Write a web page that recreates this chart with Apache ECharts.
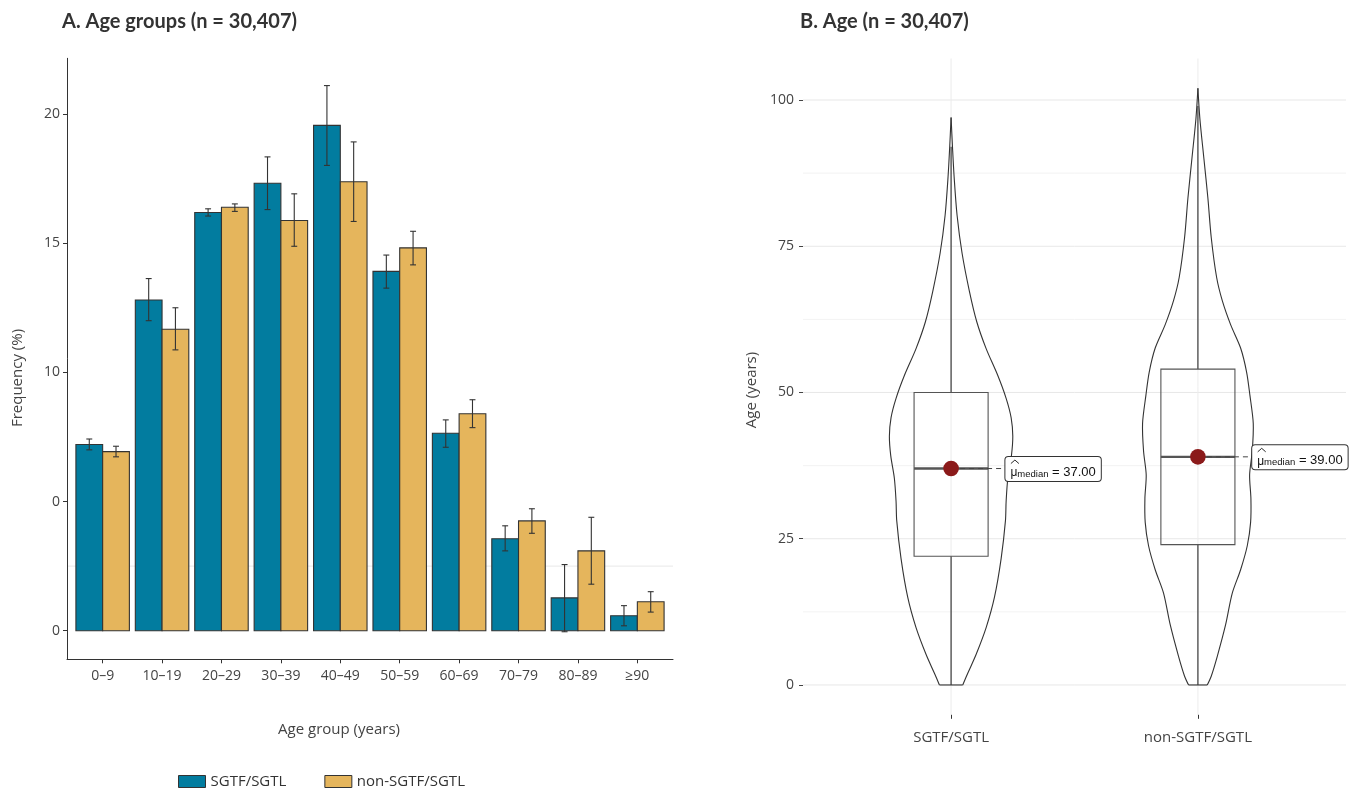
<!DOCTYPE html>
<html><head><meta charset="utf-8">
<script src="https://cdn.jsdelivr.net/npm/echarts@6/dist/echarts.min.js"></script>
<style>html,body{margin:0;padding:0;background:#fff}#c{width:1355px;height:789px}</style>
</head><body><div id="c"></div>
<script>
// ---------- Panel A data ----------
const ageGroups = ['0–9','10–19','20–29','30–39','40–49','50–59','60–69','70–79','80–89','≥90'];
const sgtfFreq  = [7.21,12.80,16.19,17.32,19.56,13.91,7.64,3.56,1.27,0.58];
const sgtfLow   = [7.00,12.00,16.05,16.30,18.01,13.26,7.10,3.09,-0.04,0.19];
const sgtfHigh  = [7.42,13.63,16.33,18.34,21.10,14.54,8.16,4.06,2.56,0.97];
const nonFreq   = [6.93,11.67,16.39,15.88,17.38,14.82,8.40,4.25,3.09,1.12];
const nonLow    = [6.73,10.87,16.23,14.88,15.84,14.16,7.86,3.77,1.80,0.72];
const nonHigh   = [7.14,12.50,16.52,16.91,18.92,15.46,8.94,4.72,4.39,1.51];
const freqTicks = [0,5,10,15,20];
const freqTickLabels = ['0','0','10','15','20'];
const freqRefLines = [2.5];

// ---------- Panel B data ----------
const groupNames = ['SGTF/SGTL','non-SGTF/SGTL'];
const sgtfAges = [0,2,5.2,9.8,15,21.6,28.1,31.4,35.3,39.2,42.5,45.7,49,52.9,57.5,62.1,67.3,73.8,80.3,86.9,92.1,97];
const sgtfDensity = [0.189,0.270,0.405,0.568,0.703,0.811,0.881,0.892,0.919,0.978,1.0,0.973,0.892,0.757,0.568,0.416,0.297,0.178,0.097,0.049,0.022,0];
const nonAges = [0,1.5,4.9,10.3,15.7,19.7,23.8,27.8,31.9,35.9,40,44.7,49.5,53.5,57.6,61.6,65.7,69.7,76.5,83.2,90,96.8,102];
const nonDensity = [0.151,0.216,0.314,0.449,0.557,0.692,0.8,0.854,0.859,0.838,0.881,0.897,0.843,0.789,0.692,0.530,0.395,0.303,0.216,0.162,0.097,0.032,0];
const boxMin    = [0, 0];
const boxQ1     = [22, 24];
const boxMedian = [37, 39];
const boxQ3     = [50, 54];
const boxMax    = [92, 99];
const ageTicks = [0,25,50,75,100];
const ageMinorLines = [12.5,37.5,62.5,87.5];
const groupPositions = [1, 2];

// ---------- styling constants ----------
const C_SGTF = '#027c9f', C_NON = '#e5b55c', C_EDGE = '#333333';
const TXT = '#444444';
const FONT = '"Open Sans", "Noto Sans", sans-serif';
const barW = 0.45, capW = 0.1;
const violinScale = 0.25, boxHalf = 0.15, labelOffset = 0.22;

const violinAges = [sgtfAges, nonAges];
const violinDens = [sgtfDensity, nonDensity];

function barRenderer(side){
  return function(params, api){
    const i = api.value(0), v = api.value(1);
    const x0 = side < 0 ? i - barW : i, x1 = side < 0 ? i : i + barW;
    const p0 = api.coord([x0, 0]), p1 = api.coord([x1, v]);
    return {type:'rect', shape:{x:p0[0], y:Math.min(p0[1],p1[1]), width:p1[0]-p0[0], height:Math.abs(p0[1]-p1[1])},
      style:{fill: api.visual('color'), stroke: C_EDGE, lineWidth: 1.1}};
  };
}
function errRenderer(side){
  return function(params, api){
    const x = api.value(0) + side * barW/2, lo = api.value(1), hi = api.value(2);
    const a = api.coord([x, lo]), b = api.coord([x, hi]);
    const hw = api.size([capW, 0])[0] / 2;
    const st = {stroke:'#333', lineWidth:1.1};
    return {type:'group', children:[
      {type:'line', shape:{x1:a[0], y1:a[1], x2:b[0], y2:b[1]}, style:st},
      {type:'line', shape:{x1:a[0]-hw, y1:a[1], x2:a[0]+hw, y2:a[1]}, style:st},
      {type:'line', shape:{x1:b[0]-hw, y1:b[1], x2:b[0]+hw, y2:b[1]}, style:st}
    ]};
  };
}
function hLineRenderer(x0, x1, color){
  return function(params, api){
    const v = api.value(0);
    const a = api.coord([x0, v]), b = api.coord([x1, v]);
    return {type:'line', shape:{x1:a[0], y1:a[1], x2:b[0], y2:b[1]}, style:{stroke:color, lineWidth:1}};
  };
}
function vLineRenderer(y0, y1, color){
  return function(params, api){
    const v = api.value(0);
    const a = api.coord([v, y0]), b = api.coord([v, y1]);
    return {type:'line', shape:{x1:a[0], y1:a[1], x2:b[0], y2:b[1]}, style:{stroke:color, lineWidth:1}};
  };
}
function violinRenderer(params, api){
  const g = api.value(0);
  const ages = violinAges[params.dataIndex], dens = violinDens[params.dataIndex];
  const right = [], left = [];
  for (let k = 0; k < ages.length; k++) {
    right.push(api.coord([g + dens[k]*violinScale, ages[k]]));
    left.push(api.coord([g - dens[k]*violinScale, ages[k]]));
  }
  const st = {fill:'none', stroke:'#333', lineWidth:1.1};
  return {type:'group', children:[
    {type:'polyline', shape:{points:right, smooth:0.3}, style:st},
    {type:'polyline', shape:{points:left, smooth:0.3}, style:st},
    {type:'line', shape:{x1:left[0][0], y1:left[0][1], x2:right[0][0], y2:right[0][1]}, style:st}
  ]};
}
function boxRenderer(params, api){
  const g = api.value(0), mn = api.value(1), q1 = api.value(2), md = api.value(3), q3 = api.value(4), mx = api.value(5);
  const bl = api.coord([g - boxHalf, q3]), br = api.coord([g + boxHalf, q1]);
  const cMin = api.coord([g, mn]), cQ1 = api.coord([g, q1]), cQ3 = api.coord([g, q3]), cMax = api.coord([g, mx]);
  const mL = api.coord([g - boxHalf, md]), mR = api.coord([g + boxHalf, md]);
  const lab = api.coord([g + labelOffset, md]);
  const cx = (mL[0] + mR[0]) / 2;
  const st = {stroke:'#3a3a3a', lineWidth:1.2};
  return {type:'group', children:[
    {type:'line', shape:{x1:cMin[0], y1:cMin[1], x2:cQ1[0], y2:cQ1[1]}, style:st},
    {type:'line', shape:{x1:cQ3[0], y1:cQ3[1], x2:cMax[0], y2:cMax[1]}, style:st},
    {type:'rect', shape:{x:bl[0], y:bl[1], width:br[0]-bl[0], height:br[1]-bl[1]}, style:{fill:'none', stroke:'#555', lineWidth:1.1}},
    {type:'line', shape:{x1:mL[0], y1:mL[1], x2:mR[0], y2:mR[1]}, style:{stroke:'#555', lineWidth:2.4}},
    {type:'line', shape:{x1:cx, y1:mL[1], x2:lab[0], y2:lab[1]}, style:{stroke:'#444', lineWidth:1, lineDash:[5,4]}},
    {type:'circle', shape:{cx:cx, cy:mL[1], r:7.8}, style:{fill:'#8b1a1a'}},
    {type:'text', x:lab[0], y:lab[1] + 0.5, z2:5, style:{
      text:'{mu|\u03bc}{sub|median}{eq| = ' + md.toFixed(2) + '}',
      align:'left', verticalAlign:'middle',
      backgroundColor:'#fff', borderColor:'#333', borderWidth:1, borderRadius:3, padding:[5,5,2,5],
      rich:{
        mu:{fontFamily:'"Liberation Sans", sans-serif', fontSize:12, fill:'#111', verticalAlign:'bottom', lineHeight:17},
        sub:{fontFamily:'"Liberation Sans", sans-serif', fontSize:9.5, fill:'#111', verticalAlign:'bottom', lineHeight:11},
        eq:{fontFamily:'"Liberation Sans", sans-serif', fontSize:13, fill:'#111', verticalAlign:'bottom', lineHeight:17}
      }}},
    {type:'polyline', z2:6, shape:{points:[[lab[0]+5.5, lab[1]-5],[lab[0]+9.5, lab[1]-8.5],[lab[0]+13.5, lab[1]-5]]},
      style:{fill:'none', stroke:'#111', lineWidth:0.9}}
  ]};
}

const chart = echarts.init(document.getElementById('c'), null, {renderer:'canvas'});
const option = {
  backgroundColor:'#fff',
  animation:false,
  textStyle:{fontFamily:FONT},
  title:[
    {text:'A. Age groups (n = 30,407)', left:57, top:7, textStyle:{fontFamily:'Lato, "Open Sans", sans-serif', fontWeight:'bold', fontSize:20, color:'#333'}},
    {text:'B. Age (n = 30,407)', left:795, top:7, textStyle:{fontFamily:'Lato, "Open Sans", sans-serif', fontWeight:'bold', fontSize:20, color:'#333'}}
  ],
  legend:{
    left:173, top:769, itemWidth:27, itemHeight:12, itemGap:38,
    textStyle:{fontFamily:FONT, fontSize:15, color:'#333'},
    data:[
      {name:'SGTF/SGTL', icon:'rect', itemStyle:{color:C_SGTF, borderColor:C_EDGE, borderWidth:1}},
      {name:'non-SGTF/SGTL', icon:'rect', itemStyle:{color:C_NON, borderColor:C_EDGE, borderWidth:1}}
    ]
  },
  grid:[
    {left:67, top:58.3, width:606, height:601},
    {left:803, top:58.5, width:543, height:656.3}
  ],
  xAxis:[
    {type:'value', gridIndex:0, min:-0.6, max:9.6,
      axisLine:{show:true, onZero:false, lineStyle:{color:'#333', width:1}},
      axisTick:{show:true, length:4, customValues: ageGroups.map((_, i) => i), lineStyle:{color:'#333'}},
      axisLabel:{customValues: ageGroups.map((_, i) => i), formatter: v => ageGroups[Math.round(v)], margin:10, fontSize:14, color:TXT, fontFamily:FONT},
      splitLine:{show:false}},
    {type:'value', gridIndex:1, min:0.4, max:2.6,
      axisLine:{show:false, onZero:false},
      axisTick:{show:true, length:4, customValues:groupPositions, lineStyle:{color:'#333'}},
      axisLabel:{customValues:groupPositions, formatter: v => groupNames[groupPositions.indexOf(Math.round(v))], margin:15, fontSize:15, color:TXT, fontFamily:FONT},
      splitLine:{show:false}}
  ],
  yAxis:[
    {type:'value', gridIndex:0, min:-1.107, max:22.156,
      axisLine:{show:true, onZero:false, lineStyle:{color:'#333', width:1}},
      axisTick:{show:true, length:4, customValues:freqTicks, lineStyle:{color:'#333'}},
      axisLabel:{customValues:freqTicks, formatter: v => freqTickLabels[freqTicks.indexOf(v)], margin:7, fontSize:14, color:TXT, fontFamily:FONT},
      splitLine:{show:false}},
    {type:'value', gridIndex:1, min:-5.1, max:107.1,
      axisLine:{show:false, onZero:false},
      axisTick:{show:true, length:4, customValues:ageTicks, lineStyle:{color:'#444'}},
      axisLabel:{customValues:ageTicks, margin:9, fontSize:14, color:TXT, fontFamily:FONT},
      splitLine:{show:false}}
  ],
  graphic:[
    {type:'text', x:18, y:378, rotation:Math.PI/2, style:{text:'Frequency (%)', align:'center', verticalAlign:'middle', font:'15px ' + FONT, fill:TXT}},
    {type:'text', x:339, y:730, style:{text:'Age group (years)', align:'center', verticalAlign:'middle', font:'15px ' + FONT, fill:TXT}},
    {type:'text', x:752, y:390, rotation:Math.PI/2, style:{text:'Age (years)', align:'center', verticalAlign:'middle', font:'15px ' + FONT, fill:TXT}}
  ],
  series:[
    {name:'ref-a', type:'custom', xAxisIndex:0, yAxisIndex:0, z:0, silent:true,
      renderItem: hLineRenderer(-0.6, 9.6, '#e9e9e9'), data: freqRefLines.map(v => [v])},
    {name:'grid-minor-b', type:'custom', xAxisIndex:1, yAxisIndex:1, z:0, silent:true,
      renderItem: hLineRenderer(0.4, 2.6, '#f3f3f3'), data: ageMinorLines.map(v => [v])},
    {name:'grid-major-b', type:'custom', xAxisIndex:1, yAxisIndex:1, z:0, silent:true,
      renderItem: hLineRenderer(0.4, 2.6, '#e8e8e8'), data: ageTicks.map(v => [v])},
    {name:'grid-x-b', type:'custom', xAxisIndex:1, yAxisIndex:1, z:0, silent:true,
      renderItem: vLineRenderer(-5.1, 107.1, '#ececec'), data: groupPositions.map(v => [v])},
    {name:'SGTF/SGTL', type:'custom', xAxisIndex:0, yAxisIndex:0, z:2,
      itemStyle:{color:C_SGTF}, renderItem: barRenderer(-1),
      data: sgtfFreq.map((v, i) => [i, v])},
    {name:'non-SGTF/SGTL', type:'custom', xAxisIndex:0, yAxisIndex:0, z:2,
      itemStyle:{color:C_NON}, renderItem: barRenderer(1),
      data: nonFreq.map((v, i) => [i, v])},
    {name:'err-sgtf', type:'custom', xAxisIndex:0, yAxisIndex:0, z:3, renderItem: errRenderer(-1),
      data: sgtfLow.map((v, i) => [i, v, sgtfHigh[i]])},
    {name:'err-non', type:'custom', xAxisIndex:0, yAxisIndex:0, z:3, renderItem: errRenderer(1),
      data: nonLow.map((v, i) => [i, v, nonHigh[i]])},
    {name:'violin', type:'custom', xAxisIndex:1, yAxisIndex:1, z:2, renderItem: violinRenderer,
      data: groupPositions.map(v => [v])},
    {name:'box', type:'custom', xAxisIndex:1, yAxisIndex:1, z:3, renderItem: boxRenderer,
      data: groupPositions.map((v, i) => [v, boxMin[i], boxQ1[i], boxMedian[i], boxQ3[i], boxMax[i]])}
  ]
};
chart.setOption(option);
</script>
</body></html>
